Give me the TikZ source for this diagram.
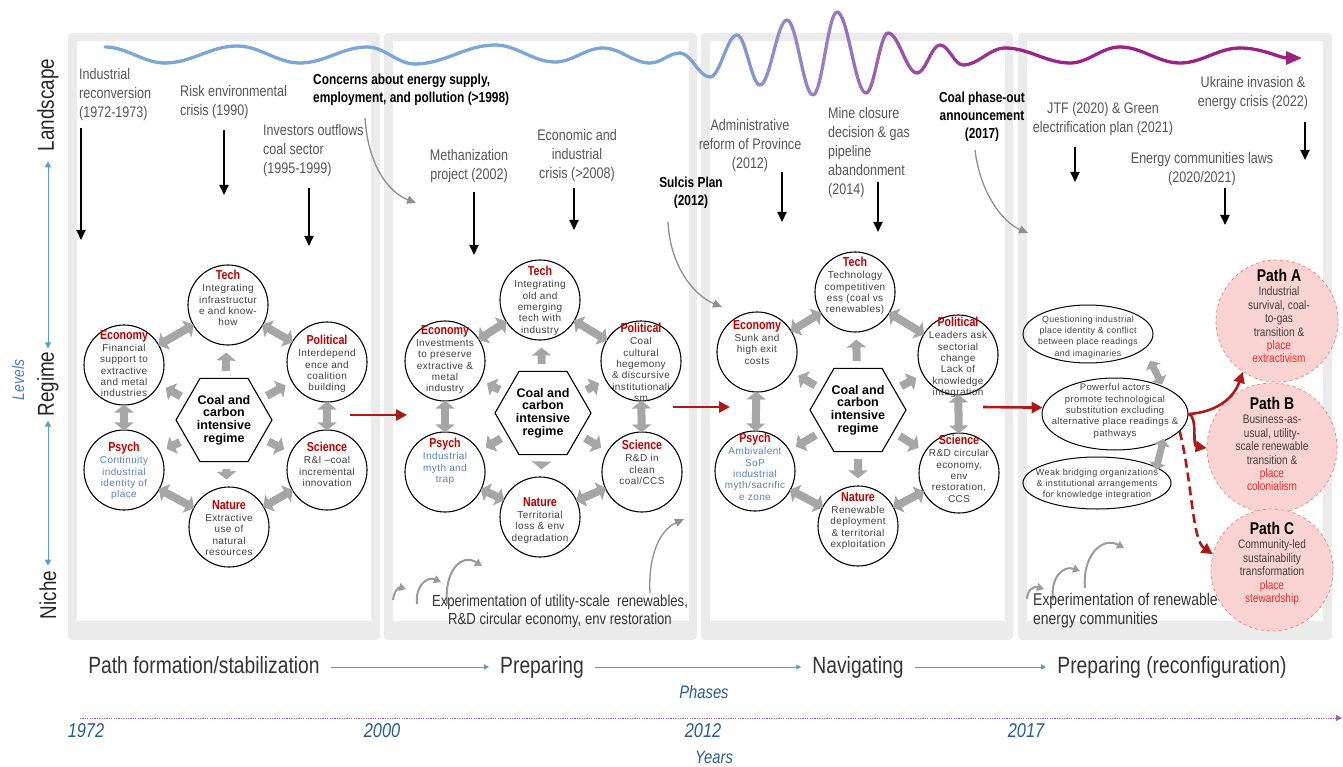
\documentclass[tikz,border=0pt]{standalone}
\usepackage{fontspec}
\setmainfont{Liberation Sans}
\newfontfamily\narrowf[FakeStretch=0.82]{Liberation Sans}
\newfontfamily\bodyf[LetterSpace=4]{Liberation Sans}
\usetikzlibrary{arrows.meta,shapes.geometric}

\definecolor{panelgrey}{HTML}{EBEBEB}
\definecolor{arrgrey}{HTML}{A6A6A6}
\definecolor{curvegrey}{HTML}{8F8F8F}
\definecolor{sproutgrey}{HTML}{9B9B9B}
\definecolor{evtext}{HTML}{555555}
\definecolor{bodygrey}{HTML}{3F3F3F}
\definecolor{titred}{HTML}{C00000}
\definecolor{psyblue}{HTML}{5A7FC6}
\definecolor{darkred}{HTML}{B01818}
\definecolor{pathpink}{HTML}{F9D3D1}
\definecolor{pathedge}{HTML}{E98A85}
\definecolor{placered}{HTML}{E8302A}
\definecolor{axisblue}{HTML}{5B9BD5}
\definecolor{levblue}{HTML}{4A7EBB}
\definecolor{labblue}{HTML}{2B5A8E}
\definecolor{wblue}{HTML}{7AA7D8}
\definecolor{wmid}{HTML}{9A7DC6}
\definecolor{wmag}{HTML}{9C2384}
\definecolor{yearline}{HTML}{A45AB8}

% one facet of the regime: empty circle plus title and body text
\newcommand\facetnode[7]{%
  \node[facet] (#1) at (#2,#3) {};
  \node[ftxt, text=#7] (#1t) at (#2,#4)
    {{\narrowf\bfseries\fontsize{13}{13}\selectfont\color{titred}#5}\\[1pt]#6};
}

\begin{document}
\begin{tikzpicture}[x=1pt,y=-1pt,
  panelo/.style={fill=panelgrey, rounded corners=4pt},
  paneli/.style={fill=white},
  facet/.style={circle, draw=black, line width=1.1pt, minimum size=80pt, inner sep=0pt},
  ftxt/.style={anchor=north, align=center, inner sep=0pt, font=\bodyf\fontsize{10}{11.3}\selectfont},
  hexa/.style={regular polygon, regular polygon sides=6, draw=black, line width=1.1pt,
    minimum size=96pt, inner sep=0pt, align=center, font=\bfseries\fontsize{12.5}{12.8}\selectfont},
  gout/.style={draw=arrgrey, line width=8pt, -{Triangle[width=19pt,length=8pt]}, shorten <=7pt, shorten >=7pt},
  gdbl/.style={draw=arrgrey, line width=8pt, {Triangle[width=19pt,length=8pt]}-{Triangle[width=19pt,length=8pt]},
    shorten <=-1pt, shorten >=-1pt},
  gdbltwo/.style={draw=arrgrey, line width=7pt, {Triangle[width=16pt,length=7pt]}-{Triangle[width=16pt,length=7pt]}},
  evt/.style={inner sep=0pt, anchor=north, align=center, text=evtext, font=\narrowf\fontsize{15.3}{19}\selectfont},
  evtl/.style={evt, anchor=north west, align=left},
  evb/.style={evt, text=black, font=\narrowf\bfseries\fontsize{14.5}{18}\selectfont},
  evdrop/.style={line width=2pt, -{Triangle[width=9pt,length=10pt]}},
  gcurve/.style={draw=curvegrey, line width=1.3pt, -{Triangle[width=8pt,length=9pt]}},
  nicharr/.style={draw=sproutgrey, line width=2pt, -{Triangle[width=8pt,length=7pt]}},
  redarr/.style={draw=darkred, line width=2.6pt, -{Triangle[width=11pt,length=11pt]}},
  ell/.style={ellipse, draw=black, line width=1pt, inner sep=0pt},
  etxt/.style={align=center, inner sep=0pt, text=bodygrey, font=\bodyf\fontsize{9.5}{11.3}\selectfont},
  pathc/.style={circle, fill=pathpink, draw=pathedge, dashed, line width=0.8pt, inner sep=0pt},
  ptxt/.style={anchor=north, align=center, inner sep=0pt, text=bodygrey, font=\narrowf\fontsize{12.3}{13.4}\selectfont},
  nich/.style={align=center, inner sep=0pt, text=black!80, font=\narrowf\fontsize{16}{18}\selectfont},
  lvl/.style={rotate=90, font=\narrowf\fontsize{23}{23}\selectfont, text=black!85, inner sep=2pt},
  axarr/.style={draw=axisblue, line width=1pt, {Triangle[width=6pt,length=6pt]}-{Triangle[width=6pt,length=6pt]}},
  phtxt/.style={font=\narrowf\fontsize{23.5}{24}\selectfont, text=black!80, inner xsep=11pt, inner ysep=0pt,
    text height=17pt, text depth=5pt},
  pharr/.style={draw=axisblue, line width=1pt, -{Triangle[width=5pt,length=5pt]}},
  yr/.style={font=\narrowf\itshape\fontsize{20}{20}\selectfont, text=labblue, inner sep=0pt},
  wavel/.style={line width=3.3pt, line cap=round},
]
\useasboundingbox (0,0) rectangle (1343,767);

% ---------- phase panels ----------
\fill[panelo] (68,33) rectangle (380,640);   \fill[paneli] (77,41) rectangle (371,621);
\fill[panelo] (384,33) rectangle (697,640);  \fill[paneli] (393,41) rectangle (689,621);
\fill[panelo] (701,33) rectangle (1013,640); \fill[paneli] (710,41) rectangle (1005,621);
\fill[panelo] (1018,33) rectangle (1332,640);\fill[paneli] (1027,41) rectangle (1323,621);

% ---------- landscape pressure wave ----------
\foreach \xa/\ya/\xb/\yb/\wc in {
  105/47/165/63/wblue, 165/63/237/46/wblue, 237/46/300/63/wblue, 300/63/367/47/wblue,
  367/47/415/64/wblue, 415/64/495/45/wblue, 495/45/555/62/wblue, 555/62/603/48/wblue,
  603/48/650/63/wblue, 650/63/680/53/wblue, 680/53/710/77/wmid!10!wblue,
  710/77/737/35/wmid!25!wblue, 737/35/760/85/wmid!45!wblue, 760/85/787/20/wmid!65!wblue,
  787/20/813/95/wmid!85!wblue, 813/95/837/12/wmid, 837/12/866/93/wmag!15!wmid,
  866/93/888/33/wmag!30!wmid, 888/33/917/73/wmag!45!wmid, 917/73/940/45/wmag!60!wmid,
  940/45/963/65/wmag!72!wmid, 963/65/1005/48/wmag!85!wmid, 1005/48/1070/63/wmag,
  1070/63/1120/47/wmag, 1120/47/1180/63/wmag, 1180/63/1240/48/wmag} {
  \pgfmathsetmacro\ca{\xa+0.37*(\xb-\xa)}
  \pgfmathsetmacro\cb{\xb-0.37*(\xb-\xa)}
  \draw[wavel, draw=\wc] (\xa,\ya) .. controls (\ca,\ya) and (\cb,\yb) .. (\xb,\yb);
}
\coordinate (wv0) at (1240,48);
\coordinate (wv1) at (1302,58);
\draw[wavel, draw=wmag, -{Triangle[width=13pt,length=16pt]}] (wv0) .. controls (1262,48) and (1280,58) .. (wv1);

% ---------- level axis ----------
\node[lvl] (lLand) at (48,105) {Landscape};
\node[lvl] (lReg) at (48,384) {Regime};
\node[lvl] (lNiche) at (48,595) {Niche};
\node[rotate=90, inner sep=0pt, font=\narrowf\itshape\fontsize{17}{17}\selectfont, text=levblue] (lLev) at (18,380) {Levels};
\draw[axarr, shorten <=8pt, shorten >=1pt] (lLand) -- (lReg);
\draw[axarr, shorten <=2pt, shorten >=3pt] (lReg) -- (lNiche);

% ---------- landscape events ----------
\node[evtl] (ev1) at (79,68) {Industrial\\reconversion\\(1972-1973)};
\node[evtl] (ev2) at (180,85) {Risk environmental\\crisis (1990)};
\node[evtl] (ev3) at (263,124) {Investors outflows\\coal sector\\(1995-1999)};
\node[evb, anchor=north west, align=left] (ev4) at (313,74) {Concerns about energy supply,\\employment, and pollution (>1998)};
\node[evt] (ev5) at (469,149) {Methanization\\project (2002)};
\node[evt] (ev6) at (577,129) {Economic and\\industrial\\crisis (>2008)};
\node[evb] (ev7) at (691,177) {Sulcis Plan\\(2012)};
\node[evt] (ev8) at (750,119) {Administrative\\reform of Province\\(2012)};
\node[evtl] (ev9) at (828,107) {Mine closure\\decision \& gas\\pipeline\\abandonment\\(2014)};
\node[evb] (ev10) at (982,92) {Coal phase-out\\announcement\\(2017)};
\node[evt] (ev11) at (1103,102) {JTF (2020) \& Green\\electrification plan (2021)};
\node[evt] (ev12) at (1253,76) {Ukraine invasion \&\\energy crisis (2022)};
\node[evt] (ev13) at (1202,152) {Energy communities laws\\(2020/2021)};

\foreach \n/\x/\ya/\yb in {1/81/128/240, 2/224/130/195, 3/309/188/246, 5/474/192/255, 6/574/188/230,
  8/782/172/222, 9/878/182/232, 11/1075/147/182, 12/1305/122/160, 13/1225/188/225} {
  \coordinate (d\n a) at (\x,\ya);
  \coordinate (d\n b) at (\x,\yb);
  \draw[evdrop] (d\n a) -- (d\n b);
}
\coordinate (g4a) at (365,118);  \coordinate (g4b) at (416,203);
\coordinate (g7a) at (668,222);  \coordinate (g7b) at (722,307);
\coordinate (g10a) at (975,150); \coordinate (g10b) at (1028,233);
\draw[gcurve] (g4a) .. controls (368,165) and (388,192) .. (g4b);
\draw[gcurve] (g7a) .. controls (670,265) and (693,295) .. (g7b);
\draw[gcurve] (g10a) .. controls (980,192) and (1002,222) .. (g10b);

% ---------- regime clusters ----------
\node[hexa] (aHex) at (224,420) {Coal and\\carbon\\intensive\\regime};
\facetnode{aTech}{228}{305}{270}{Tech}{Integrating\\infrastructur\\e and know-\\how}{bodygrey}
\facetnode{aEco}{124}{365}{330}{Economy}{Financial\\support to\\extractive\\and metal\\industries}{bodygrey}
\facetnode{aPol}{327}{362}{335}{Political}{Interdepend\\ence and\\coalition\\building}{bodygrey}
\facetnode{aPsy}{124}{470}{442}{Psych}{Continuity\\industrial\\identity of\\place}{psyblue}
\facetnode{aSci}{327}{470}{442}{Science}{R\&I –coal\\incremental\\innovation}{bodygrey}
\facetnode{aNat}{229}{527}{500}{Nature}{Extractive\\use of\\natural\\resources}{bodygrey}

\node[hexa] (bHex) at (543,413) {Coal and\\carbon\\intensive\\regime};
\facetnode{bTech}{540}{300}{266}{Tech}{Integrating\\old and\\emerging\\tech with\\industry}{bodygrey}
\facetnode{bEco}{445}{361}{325}{Economy}{Investments\\to preserve\\extractive \&\\metal\\industry}{bodygrey}
\facetnode{bPol}{641}{361}{323}{Political}{Coal\\cultural\\hegemony\\\& discursive\\institutionali\\sm}{bodygrey}
\facetnode{bPsy}{445}{472}{438}{Psych}{Industrial\\myth and\\trap}{psyblue}
\facetnode{bSci}{642}{472}{440}{Science}{R\&D in\\clean\\coal/CCS}{bodygrey}
\facetnode{bNat}{540}{517}{497}{Nature}{Territorial\\loss \& env\\degradation}{bodygrey}

\node[hexa] (cHex) at (858,410) {Coal and\\carbon\\intensive\\regime};
\facetnode{cTech}{855}{292}{257}{Tech}{Technology\\competitiven\\ess (coal vs\\renewables)}{bodygrey}
\facetnode{cEco}{757}{352}{320}{Economy}{Sunk and\\high exit\\costs}{bodygrey}
\facetnode{cPol}{958}{355}{317}{Political}{Leaders ask\\sectorial\\change\\Lack of\\knowledge\\integration}{bodygrey}
\facetnode{cPsy}{755}{471}{433}{Psych}{Ambivalent\\SoP\\industrial\\myth/sacrific\\e zone}{psyblue}
\facetnode{cSci}{959}{473}{435}{Science}{R\&D circular\\economy,\\env\\restoration,\\CCS}{bodygrey}
\facetnode{cNat}{858}{526}{492}{Nature}{Renewable\\deployment\\\& territorial\\exploitation}{bodygrey}

\foreach \p in {a,b,c} {
  \foreach \f in {Tech,Eco,Pol,Psy,Sci,Nat} {
    \draw[gout] (\p Hex) -- (\p\f);
  }
  \draw[gdbl] (\p Tech) -- (\p Eco);
  \draw[gdbl] (\p Tech) -- (\p Pol);
  \draw[gdbl] (\p Eco) -- (\p Psy);
  \draw[gdbl] (\p Pol) -- (\p Sci);
  \draw[gdbl] (\p Psy) -- (\p Nat);
  \draw[gdbl] (\p Sci) -- (\p Nat);
}

% ---------- reconfiguration panel ----------
\node[ell, minimum width=130pt, minimum height=58pt] (e1) at (1088,334) {};
\node[etxt, font=\bodyf\fontsize{8.8}{11.2}\selectfont] (e1t) at (1088,337) {Questioning industrial\\place identity \& conflict\\between place readings\\and imaginaries};
\node[ell, minimum width=146pt, minimum height=72pt] (e2) at (1115,414) {};
\node[etxt] (e2t) at (1115,411) {Powerful actors\\promote technological\\substitution excluding\\alternative place readings \&\\pathways};
\node[ell, minimum width=148pt, minimum height=52pt] (e3) at (1097,483) {};
\node[etxt, font=\bodyf\fontsize{9}{11.3}\selectfont] (e3t) at (1097,484) {Weak bridging organizations\\\& institutional arrangements\\for knowledge integration};
\draw[gdbltwo, shorten <=13pt, shorten >=2pt] (e1.-15) -- (e2.30);
\draw[gdbltwo, shorten <=-3pt, shorten >=-3pt] (e3.15) -- (e2.-30);

\node[pathc, minimum size=122pt] (pA) at (1277,321) {};
\node[ptxt] (pAt) at (1279,269) {{\bfseries\fontsize{17}{17}\selectfont\color{black}Path A}\\[1pt]Industrial\\survival, coal-\\to-gas\\transition \&\\{\color{placered}place}\\{\color{placered}extractivism}};
\node[pathc, minimum size=130pt] (pB) at (1272,448) {};
\node[ptxt] (pBt) at (1272,397) {{\bfseries\fontsize{17}{17}\selectfont\color{black}Path B}\\[1pt]Business-as-\\usual, utility-\\scale renewable\\transition \&\\{\color{placered}place}\\{\color{placered}colonialism}};
\node[pathc, minimum size=122pt] (pC) at (1272,570) {};
\node[ptxt] (pCt) at (1272,522) {{\bfseries\fontsize{17}{17}\selectfont\color{black}Path C}\\[1pt]Community-led\\sustainability\\transformation\\{\color{placered}place}\\{\color{placered}stewardship}};

% ---------- phase-to-phase transitions ----------
\coordinate (r1s) at (350,415); \coordinate (r1e) at (407,415);
\coordinate (r2s) at (673,407); \coordinate (r2e) at (730,407);
\coordinate (r3s) at (983,407);
\draw[redarr] (r1s) -- (r1e);
\draw[redarr] (r2s) -- (r2e);
\draw[redarr] (r3s) -- (e2.175);
\draw[redarr] (e2.east) .. controls (1220,412) and (1235,395) .. (pA.236);
\draw[redarr] (e2.east) .. controls (1198,416) and (1192,446) .. (pB.west);
\draw[redarr, dash pattern=on 9pt off 5pt] (e2.-15) .. controls (1192,480) and (1192,540) .. (pC.165);

% ---------- niche experiments ----------
\coordinate (s1a) at (393,600);  \coordinate (s1b) at (406,589);
\coordinate (s2a) at (417,604);  \coordinate (s2b) at (441,582);
\coordinate (s3a) at (447,604);  \coordinate (s3b) at (482,566);
\draw[nicharr] (s1a) .. controls (394,591) and (399,587) .. (s1b);
\draw[nicharr] (s2a) .. controls (415,586) and (427,576) .. (s2b);
\draw[nicharr] (s3a) .. controls (444,570) and (462,553) .. (s3b);
\coordinate (s4a) at (650,593); \coordinate (s4b) at (684,519);
\draw[gcurve] (s4a) .. controls (648,555) and (660,530) .. (s4b);
\node[nich] (n2) at (560,611) {Experimentation of utility-scale\ \ renewables,\\R\&D circular economy, env restoration};

\coordinate (t1a) at (1027,599); \coordinate (t1b) at (1044,589);
\coordinate (t2a) at (1053,600); \coordinate (t2b) at (1080,571);
\coordinate (t3a) at (1085,588); \coordinate (t3b) at (1124,548);
\draw[nicharr] (t1a) .. controls (1027,590) and (1034,586) .. (t1b);
\draw[nicharr] (t2a) .. controls (1050,578) and (1063,565) .. (t2b);
\draw[nicharr] (t3a) .. controls (1082,556) and (1102,536) .. (t3b);
\node[nich, align=left, anchor=west, font=\narrowf\fontsize{17}{19}\selectfont] (n4) at (1033,611) {Experimentation of renewable\\energy communities};

% ---------- phases and years ----------
\node[phtxt] (ph1) at (204,667) {Path formation/stabilization};
\node[phtxt] (ph2) at (542,667) {Preparing};
\node[phtxt] (ph3) at (858,667) {Navigating};
\node[phtxt] (ph4) at (1172,667) {Preparing (reconfiguration)};
\draw[pharr] (ph1) -- (ph2);
\draw[pharr] (ph2) -- (ph3);
\draw[pharr] (ph3) -- (ph4);
\node[yr, font=\narrowf\itshape\fontsize{18}{18}\selectfont] (phl) at (704,692) {Phases};

\coordinate (yl0) at (80,718);
\coordinate (yl1) at (1342,718);
\draw[draw=yearline, line width=1pt, dash pattern=on 1.2pt off 1.2pt, -{Triangle[width=6pt,length=6pt]}] (yl0) -- (yl1);
\node[yr] (y1972) at (86,731) {1972};
\node[yr] (y2000) at (382,731) {2000};
\node[yr] (y2012) at (703,731) {2012};
\node[yr] (y2017) at (1026,731) {2017};
\node[yr, font=\narrowf\itshape\fontsize{18}{18}\selectfont] (yrs) at (714,757) {Years};
\end{tikzpicture}
\end{document}
